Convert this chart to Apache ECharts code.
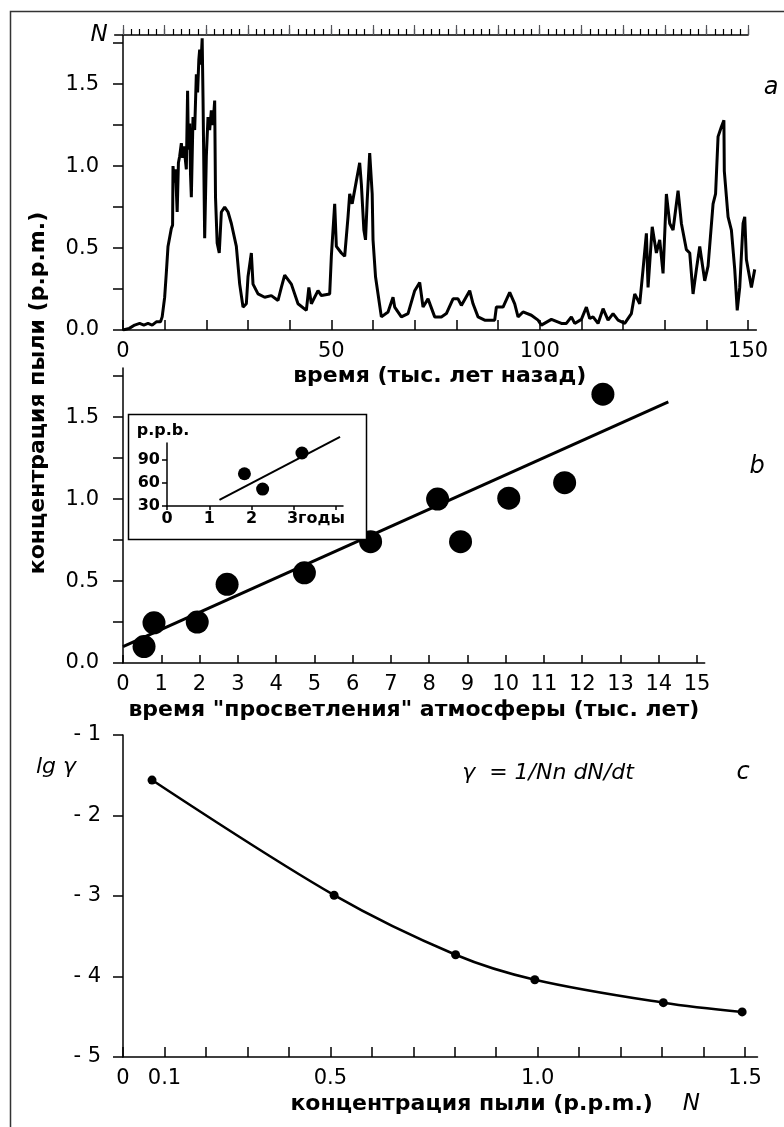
<!DOCTYPE html>
<html><head><meta charset="utf-8">
<script src="https://cdn.jsdelivr.net/npm/echarts@6/dist/echarts.min.js"></script>
<style>html,body{margin:0;padding:0;background:#fff}#c{width:784px;height:1127px}</style>
</head><body><div id="c"></div>
<script>
// ---- panel a: dust concentration vs time (kyr ago)
const timeKyr = [0,1.5,2.8,4,5,6,7,8,9,9.4,10,10.4,10.8,11.6,11.9,12.0,12.3,12.6,13.0,13.3,13.6,14.0,14.3,14.6,14.8,15.2,15.5,15.7,16.0,16.2,16.4,16.8,17.2,17.6,17.9,18.2,18.4,18.7,19.0,19.2,19.6,20.0,20.4,20.8,21.2,21.6,22.0,22.2,22.6,23.1,23.6,24.4,25.2,26,27.2,28,28.8,29.6,30,30.8,31.2,32.4,34,35.6,37.2,38,38.8,40.4,42,44,44.6,45.2,46.8,47.6,49.6,50,50.8,51.2,52.4,53.2,54,54.4,55,56,56.8,57.2,57.8,58.2,58.6,59.2,59.8,60.0,60.6,61.2,62,63.6,64.8,65.2,66.8,68.4,70,71.2,72,73.2,74.8,76.4,77.6,79.2,80.4,81.2,83.2,84,85.2,86.8,89.2,89.6,91.2,92.8,94,94.8,96,98,99.6,100.4,102.8,105.2,106.4,107.6,108.4,110,111.2,112,112.8,114,115.2,116.4,117.6,118.8,120.4,122,122.8,124,124.8,125.6,126,127,128,128.8,129.6,130.4,131.2,132,133.2,134,135.2,136,136.8,137.6,138.4,139.6,140.4,141.6,142.2,142.8,143.6,144.2,144.3,145.2,146,146.8,147.4,148,148.8,149.2,149.6,150.8,151.6];
const dustPpm = [0.0,0.01,0.03,0.04,0.03,0.04,0.03,0.05,0.05,0.08,0.2,0.35,0.51,0.62,0.64,1.0,0.9,0.98,0.72,1.02,1.06,1.14,1.05,1.12,1.08,0.98,1.46,1.1,1.26,0.95,0.81,1.3,1.22,1.56,1.45,1.65,1.71,1.62,1.78,1.42,0.56,1.06,1.30,1.22,1.34,1.25,1.40,0.81,0.53,0.47,0.72,0.75,0.72,0.65,0.51,0.28,0.14,0.16,0.325,0.47,0.28,0.22,0.20,0.21,0.18,0.26,0.335,0.28,0.16,0.12,0.26,0.16,0.24,0.21,0.22,0.45,0.77,0.51,0.47,0.45,0.69,0.83,0.77,0.91,1.02,0.89,0.61,0.55,0.79,1.08,0.83,0.55,0.325,0.22,0.08,0.11,0.20,0.14,0.08,0.10,0.24,0.29,0.14,0.19,0.08,0.08,0.10,0.19,0.19,0.15,0.24,0.16,0.08,0.06,0.06,0.14,0.14,0.23,0.16,0.08,0.11,0.09,0.06,0.03,0.065,0.04,0.04,0.08,0.04,0.065,0.14,0.07,0.08,0.04,0.13,0.06,0.10,0.06,0.04,0.10,0.22,0.16,0.37,0.59,0.26,0.63,0.47,0.55,0.345,0.83,0.65,0.61,0.85,0.65,0.49,0.47,0.22,0.37,0.51,0.30,0.39,0.77,0.83,1.18,1.24,1.28,0.97,0.69,0.61,0.37,0.12,0.26,0.65,0.69,0.43,0.26,0.37];
const axisATickValues = [0,10,20,30,40,50,60,70,80,90,100,110,120,130,140,150];
const axisALabelValues = [0,50,100,150];
const topMinorTicks = [0,2,4,6,8,10,12,14,16,18,20,22,24,26,28,30,32,34,36,38,40,42,44,46,48,50,52,54,56,58,60,62,64,66,68,70,72,74,76,78,80,82,84,86,88,90,92,94,96,98,100,102,104,106,108,110,112,114,116,118,120,122,124,126,128,130,132,134,136,138,140,142,144,146,148,150];
const dustTickValues = [0,0.25,0.5,0.75,1.0,1.25,1.5,1.75];
const dustLabelValues = [0,0.5,1.0,1.5];

// ---- panel b: dust vs "clearing" time
const clearKyr = [0.55,0.81,1.94,2.72,4.74,6.47,8.22,8.82,10.08,11.54,12.54];
const dustB = [0.10,0.245,0.25,0.48,0.55,0.74,1.0,0.74,1.006,1.10,1.64];
const fitBX = [0,14.25];
const fitBY = [0.10,1.594];
const clearTicks = [0,1,2,3,4,5,6,7,8,9,10,11,12,13,14,15];

// ---- inset
const insetYears = [1.83,2.26,3.19];
const insetPpb = [72,52,99];
const insetFitX = [1.24,4.09];
const insetFitY = [38,120];
const insetXTicks = [0,1,2,3,4];
const insetXLabels = [0,1,2,3];
const insetYTicks = [30,60,90];

// ---- panel c: lg gamma vs N
const concN = [0.07,0.509,0.802,0.993,1.303,1.493];
const lgGamma = [-1.56,-2.99,-3.73,-4.04,-4.325,-4.44];
const cXTicks = [0,0.1,0.2,0.3,0.4,0.5,0.6,0.7,0.8,0.9,1.0,1.1,1.2,1.3,1.4,1.5];
const cXLabels = [0,0.1,0.5,1.0,1.5];
const cYTicks = [-5,-4,-3,-2,-1];

const FONT = 'DejaVu Sans';
const zip = (a,b)=>a.map((v,i)=>[v,b[i]]);
const LW = 1.5;
const line = {onZero:false,lineStyle:{color:'#000',width:LW}};
const lbl = (extra)=>Object.assign({color:'#000',fontFamily:FONT,fontSize:21},extra||{});
const titleStyle = {color:'#000',fontFamily:FONT,fontSize:22,fontWeight:'bold'};
const insetLbl = {color:'#000',fontFamily:FONT,fontSize:16,fontWeight:'bold'};

const chart = echarts.init(document.getElementById('c'),null,{renderer:'canvas'});
const opt = {
  backgroundColor:'#fff',
  animation:false,
  grid:[
    {left:123,top:35,width:633.4,height:295},
    {left:114.7,top:35,width:633.4,height:295},
    {left:123,top:368,width:581.7,height:295},
    {left:167,top:443,width:176,height:63,z:20},
    {left:123,top:735,width:634.5,height:322},
    {left:114.7,top:35,width:633.4,height:295}
  ],
  xAxis:[
    {gridIndex:0,type:'value',min:0,max:152,axisLine:line,splitLine:{show:false},
     axisTick:{inside:true,length:10,customValues:axisATickValues,lineStyle:{width:LW}},
     axisLabel:lbl({margin:11,customValues:axisALabelValues}),
     name:'время (тыс. лет назад)',nameLocation:'middle',nameGap:35,nameTextStyle:titleStyle},
    {gridIndex:1,type:'value',position:'top',min:-2,max:150,axisLine:line,splitLine:{show:false},
     axisTick:{length:6,customValues:topMinorTicks,lineStyle:{width:1.2}},axisLabel:{show:false},
     name:'N',nameLocation:'start',nameGap:7,nameTextStyle:{color:'#000',fontFamily:FONT,fontSize:23,fontStyle:'italic',verticalAlign:'middle'}},
    {gridIndex:5,type:'value',position:'top',min:-2,max:150,axisLine:{show:false,onZero:false},splitLine:{show:false},
     axisTick:{length:10,customValues:axisATickValues,lineStyle:{width:1.2}},axisLabel:{show:false}},
    {gridIndex:2,type:'value',min:0,max:15.2,axisLine:line,splitLine:{show:false},
     axisTick:{inside:true,length:8,customValues:clearTicks,lineStyle:{width:LW}},
     axisLabel:lbl({margin:11,customValues:clearTicks}),
     name:'время "просветления" атмосферы (тыс. лет)',nameLocation:'middle',nameGap:36,nameTextStyle:titleStyle},
    {gridIndex:3,type:'value',min:0,max:4.16,z:20,axisLine:line,splitLine:{show:false},
     axisTick:{length:4,customValues:insetXTicks,lineStyle:{width:LW}},
     axisLabel:Object.assign({margin:5,customValues:insetXLabels,
       formatter:v=>v===3?'{p|}{n|3}{g|годы}':'{n|'+v+'}',
       rich:{p:{width:44},n:insetLbl,g:insetLbl}},insetLbl)},
    {gridIndex:4,type:'value',min:0,max:1.53,axisLine:line,splitLine:{show:false},
     axisTick:{inside:true,length:10,customValues:cXTicks,lineStyle:{width:LW}},
     axisLabel:lbl({margin:11,customValues:cXLabels,formatter:v=>v===0?'0':v.toFixed(1)}),
     name:'{t|концентрация пыли (p.p.m.)}{n|N}',nameLocation:'middle',nameGap:36,
     nameTextStyle:{padding:[0,0,0,110],rich:{t:titleStyle,n:{color:'#000',fontFamily:FONT,fontSize:23,fontStyle:'italic',padding:[0,0,0,30]}}}}
  ],
  yAxis:[
    {gridIndex:0,type:'value',min:0,max:1.8,axisLine:line,splitLine:{show:false},
     axisTick:{length:10,customValues:dustTickValues,lineStyle:{width:LW}},
     axisLabel:lbl({margin:24,customValues:dustLabelValues,formatter:v=>v.toFixed(1)})},
    {gridIndex:1,type:'value',min:0,max:1,show:false},
    {gridIndex:2,type:'value',min:0,max:1.8,axisLine:line,splitLine:{show:false},
     axisTick:{length:10,customValues:dustTickValues,lineStyle:{width:LW}},
     axisLabel:lbl({margin:24,customValues:dustLabelValues,formatter:v=>v.toFixed(1)})},
    {gridIndex:3,type:'value',min:30,max:112,z:20,axisLine:line,splitLine:{show:false},
     axisTick:{length:5,customValues:insetYTicks,lineStyle:{width:LW}},
     axisLabel:Object.assign({margin:7,customValues:insetYTicks},insetLbl)},
    {gridIndex:4,type:'value',min:-5,max:-1,axisLine:line,splitLine:{show:false},
     axisTick:{length:10,customValues:cYTicks,lineStyle:{width:LW}},
     axisLabel:lbl({margin:22,customValues:cYTicks,formatter:v=>'- '+Math.abs(v)})},
    {gridIndex:5,type:'value',min:0,max:1,show:false}
  ],
  series:[
    {type:'line',xAxisIndex:0,yAxisIndex:0,data:zip(timeKyr,dustPpm),showSymbol:false,symbol:'none',
     lineStyle:{color:'#000',width:3},z:3},
    {type:'line',xAxisIndex:3,yAxisIndex:2,data:zip(fitBX,fitBY),symbol:'none',lineStyle:{color:'#000',width:3},z:3},
    {type:'scatter',xAxisIndex:3,yAxisIndex:2,data:zip(clearKyr,dustB),symbol:'circle',symbolSize:23,itemStyle:{color:'#000',opacity:1},z:4},
    {type:'line',xAxisIndex:4,yAxisIndex:3,data:zip(insetFitX,insetFitY),symbol:'none',clip:false,lineStyle:{color:'#000',width:2},z:22},
    {type:'scatter',xAxisIndex:4,yAxisIndex:3,data:zip(insetYears,insetPpb),symbol:'circle',symbolSize:13,itemStyle:{color:'#000',opacity:1},z:22},
    {type:'line',xAxisIndex:5,yAxisIndex:4,data:zip(concN,lgGamma),smooth:0.35,symbol:'circle',symbolSize:9,
     itemStyle:{color:'#000',opacity:1},lineStyle:{color:'#000',width:2.5},z:3}
  ],
  graphic:[
    {type:'rect',shape:{x:10.5,y:11.5,width:900,height:1300},style:{fill:null,stroke:'#333',lineWidth:1.5},z:-10,silent:true},
    {type:'rect',shape:{x:128.5,y:414.5,width:238,height:125},style:{fill:'#fff',stroke:'#000',lineWidth:1.5},z:10,silent:true},
    {type:'text',x:163,y:431,style:{text:'p.p.b.',fill:'#000',font:'bold 16px "DejaVu Sans"',align:'center',verticalAlign:'middle'},z:30},
    {type:'text',x:38,y:393,rotation:Math.PI/2,style:{text:'концентрация пыли (p.p.m.)',fill:'#000',font:'bold 22px "DejaVu Sans"',align:'center',verticalAlign:'middle'},z:12},
    {type:'text',x:771,y:88,style:{text:'a',fill:'#000',font:'italic 24px "DejaVu Sans"',align:'center',verticalAlign:'middle'},z:12},
    {type:'text',x:757,y:467,style:{text:'b',fill:'#000',font:'italic 24px "DejaVu Sans"',align:'center',verticalAlign:'middle'},z:12},
    {type:'text',x:743,y:773,style:{text:'c',fill:'#000',font:'italic 24px "DejaVu Sans"',align:'center',verticalAlign:'middle'},z:12},
    {type:'text',x:56,y:767,style:{text:'lg γ',fill:'#000',font:'italic 22px "DejaVu Sans"',align:'center',verticalAlign:'middle'},z:12},
    {type:'text',x:548,y:773,style:{text:'γ  = 1/Nn dN/dt',fill:'#000',font:'italic 22px "DejaVu Sans"',align:'center',verticalAlign:'middle'},z:12}
  ]
};
chart.setOption(opt);
</script></body></html>
